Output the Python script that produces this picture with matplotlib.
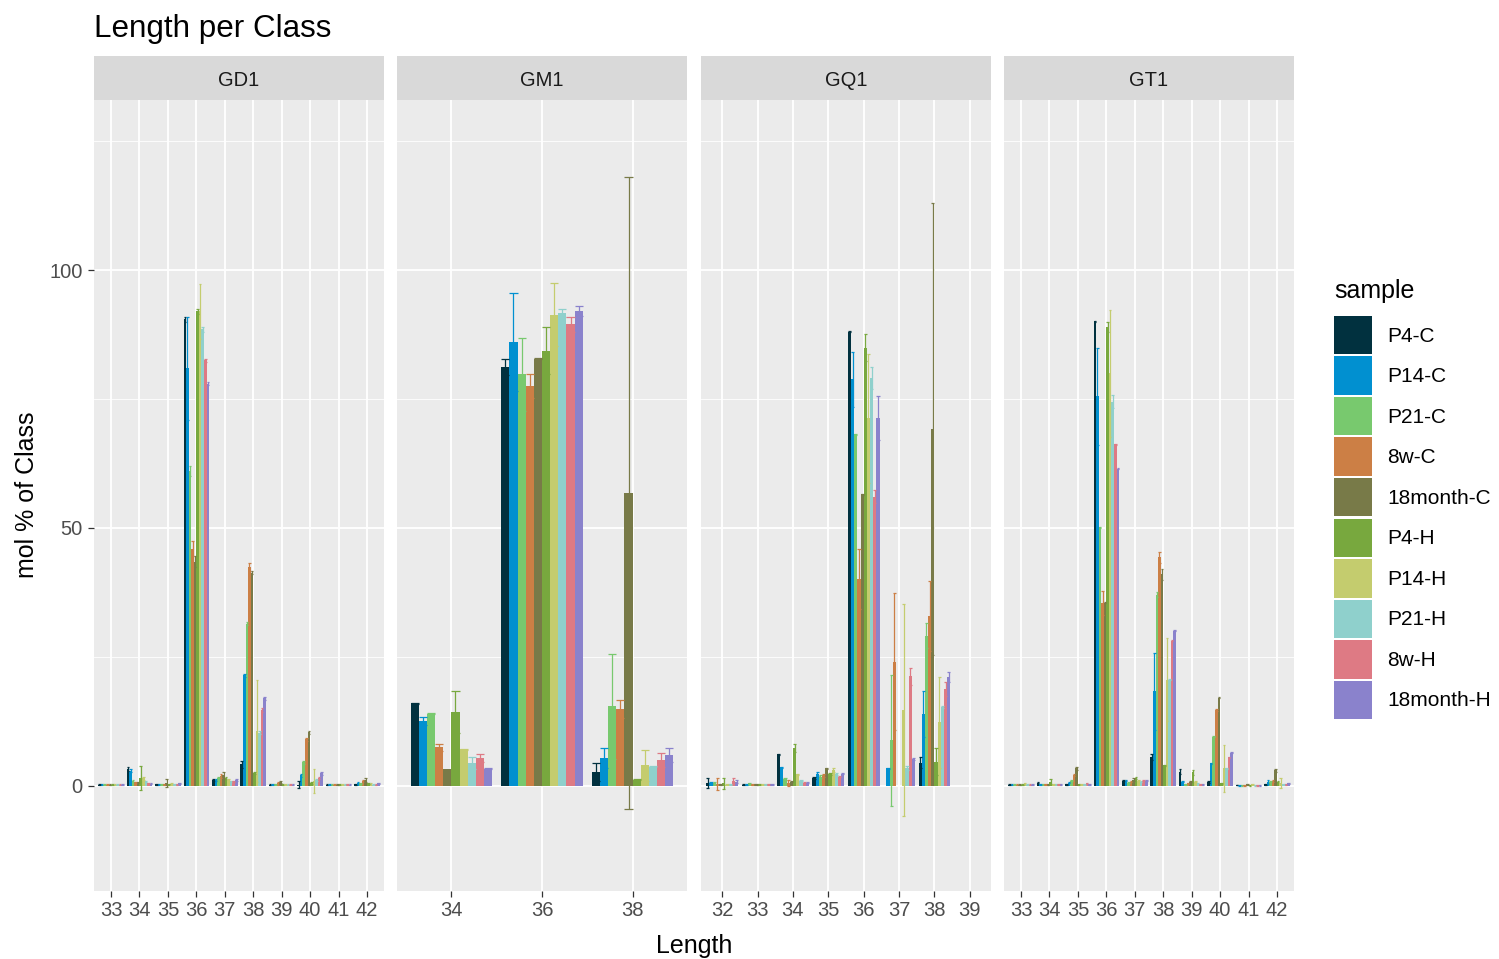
import matplotlib
matplotlib.use("Agg")
import matplotlib.pyplot as plt
from matplotlib.patches import Rectangle
import numpy as np

plt.rcParams['font.family'] = ['Liberation Sans', 'DejaVu Sans']

samples = ["P4-C", "P14-C", "P21-C", "8w-C", "18month-C",
           "P4-H", "P14-H", "P21-H", "8w-H", "18month-H"]
colors = ["#01313F", "#0190D0", "#78C96E", "#CC7F45", "#787A48",
          "#78A83E", "#C4CC6E", "#8FD0CC", "#DE7A84", "#8A82CC"]

classes = ["GD1", "GM1", "GQ1", "GT1"]

GD1_lengths = ["33", "34", "35", "36", "37", "38", "39", "40", "41", "42"]
GD1_mean = [
    [0.2, 0.3, 0.2, 0.2, 0.2, 0.2, 0.2, 0.2, 0.2, 0.2],
    [3.2, 2.9, 1.0, 0.7, 0.7, 1.5, 1.5, 0.9, 0.5, 0.4],
    [0.3, 0.3, 0.3, 0.3, 0.5, 0.3, 0.3, 0.3, 0.3, 0.5],
    [90.5, 81.0, 61.0, 46.0, 43.5, 92.0, 92.0, 88.5, 82.5, 78.0],
    [1.2, 1.2, 1.5, 1.9, 2.0, 1.5, 1.2, 0.9, 0.9, 1.2],
    [4.2, 21.4, 31.4, 42.5, 41.3, 2.4, 10.7, 10.3, 14.7, 17.0],
    [0.2, 0.2, 0.3, 0.5, 0.7, 0.3, 0.2, 0.2, 0.2, 0.2],
    [0.2, 2.0, 4.6, 9.0, 10.4, 0.5, 0.9, 1.2, 1.5, 2.4],
    [0.2, 0.2, 0.2, 0.2, 0.2, 0.3, 0.2, 0.2, 0.3, 0.2],
    [0.3, 0.5, 0.5, 0.9, 1.2, 0.5, 0.3, 0.2, 0.2, 0.5],
]
GD1_sd = [
    [0.1, 0.1, 0.1, 0.1, 0.1, 0.1, 0.1, 0.1, 0.1, 0.1],
    [0.4, 0.3, 0.2, 0.1, 0.1, 2.4, 0.3, 0.1, 0.1, 0.1],
    [0.1, 0.1, 0.1, 0.1, 0.8, 0.1, 0.2, 0.1, 0.1, 0.1],
    [0.5, 10.0, 1.0, 1.5, 1.0, 0.5, 5.3, 0.5, 0.3, 0.3],
    [0.2, 0.2, 0.2, 0.3, 0.6, 0.2, 0.2, 0.1, 0.1, 0.2],
    [0.7, 0.3, 0.3, 0.8, 0.3, 0.2, 9.9, 0.3, 0.3, 0.3],
    [0.1, 0.1, 0.1, 0.3, 0.2, 0.1, 0.1, 0.1, 0.1, 0.1],
    [0.7, 0.3, 0.3, 0.3, 0.3, 0.2, 2.3, 0.2, 0.2, 0.3],
    [0.1, 0.1, 0.1, 0.1, 0.1, 0.1, 0.1, 0.1, 0.1, 0.1],
    [0.1, 0.2, 0.1, 0.2, 0.4, 0.1, 0.2, 0.1, 0.1, 0.1],
]

GM1_lengths = ["34", "36", "38"]
GM1_mean = [
    [16.0, 12.5, 14.0, 7.5, 3.3, 14.3, 7.1, 4.4, 5.4, 3.3],
    [81.2, 86.0, 79.8, 77.5, 82.8, 84.4, 91.4, 91.7, 89.5, 92.1],
    [2.7, 5.4, 15.4, 14.9, 56.8, 1.2, 4.0, 3.7, 5.0, 6.0],
]
GM1_sd = [
    [0.1, 0.8, 0.1, 0.7, 0.0, 4.0, 0.1, 1.2, 0.7, 0.1],
    [1.6, 9.5, 7.1, 2.3, 0.1, 4.6, 6.2, 0.7, 1.5, 1.0],
    [1.7, 2.0, 10.2, 1.8, 61.3, 0.1, 3.0, 0.1, 1.4, 1.4],
]

GQ1_lengths = ["32", "33", "34", "35", "36", "37", "38", "39"]
GQ1_mean = [
    [0.5, 0.5, 0.5, 0.3, 0.3, 0.5, 0.2, 0.3, 1.0, 0.8],
    [0.2, 0.2, 0.5, 0.3, 0.3, 0.3, 0.3, 0.3, 0.3, 0.3],
    [6.1, 3.6, 1.3, 0.5, 0.8, 7.3, 2.2, 1.0, 0.6, 0.6],
    [1.6, 2.3, 1.8, 2.0, 3.4, 2.3, 3.0, 2.3, 1.8, 2.3],
    [88.1, 78.8, 68.2, 40.1, 56.5, 85.0, 71.3, 79.1, 56.1, 71.3],
    [0.0, 3.4, 8.8, 24.1, 0.0, 0.0, 14.7, 3.4, 21.2, 5.2],
    [4.5, 13.9, 29.1, 32.9, 69.2, 4.7, 12.3, 15.2, 18.8, 21.1],
    [0.0, 0.0, 0.0, 0.0, 0.0, 0.0, 0.0, 0.0, 0.0, 0.0],
]
GQ1_sd = [
    [1.0, 0.2, 0.2, 1.2, 0.1, 1.1, 0.1, 0.1, 0.5, 0.3],
    [0.1, 0.1, 0.1, 0.1, 0.1, 0.1, 0.1, 0.1, 0.1, 0.1],
    [0.1, 0.1, 0.2, 0.6, 0.1, 0.8, 0.1, 0.1, 0.1, 0.1],
    [0.2, 0.4, 0.2, 0.2, 0.1, 0.2, 0.4, 0.2, 0.1, 0.1],
    [0.1, 5.4, 0.1, 5.8, 0.1, 2.7, 12.5, 2.2, 1.2, 4.3],
    [0.0, 0.1, 12.7, 13.2, 0.0, 0.0, 20.5, 0.4, 1.7, 0.1],
    [1.0, 4.5, 2.4, 6.8, 43.9, 2.7, 8.8, 0.2, 1.4, 0.9],
    [0.0, 0.0, 0.0, 0.0, 0.0, 0.0, 0.0, 0.0, 0.0, 0.0],
]

GT1_lengths = ["33", "34", "35", "36", "37", "38", "39", "40", "41", "42"]
GT1_mean = [
    [0.2, 0.2, 0.2, 0.2, 0.2, 0.2, 0.5, 0.2, 0.2, 0.2],
    [0.6, 0.3, 0.3, 0.3, 0.3, 0.8, 0.3, 0.3, 0.3, 0.3],
    [0.3, 0.6, 1.0, 2.1, 3.4, 0.3, 0.3, 0.3, 0.5, 0.3],
    [90.1, 75.5, 50.1, 35.5, 35.5, 89.0, 80.0, 74.5, 66.2, 61.5],
    [1.0, 1.0, 0.6, 0.8, 1.2, 1.6, 1.0, 0.8, 1.0, 1.0],
    [5.6, 18.3, 37.1, 44.3, 41.0, 4.0, 20.6, 20.6, 28.1, 30.1],
    [2.7, 0.8, 0.3, 0.5, 0.8, 2.6, 0.8, 0.5, 0.3, 0.3],
    [0.8, 4.4, 9.5, 14.7, 17.1, 0.5, 3.4, 3.4, 5.5, 6.4],
    [0.2, 0.1, 0.1, 0.1, 0.3, 0.1, 0.3, 0.1, 0.1, 0.1],
    [0.3, 0.8, 0.8, 1.0, 3.0, 0.8, 0.5, 0.3, 0.3, 0.5],
]
GT1_sd = [
    [0.1, 0.1, 0.1, 0.1, 0.1, 0.1, 0.1, 0.1, 0.1, 0.1],
    [0.1, 0.1, 0.1, 0.1, 0.1, 0.5, 0.1, 0.1, 0.1, 0.1],
    [0.1, 0.1, 0.1, 0.2, 0.3, 0.1, 0.1, 0.1, 0.1, 0.1],
    [0.1, 9.4, 0.1, 2.3, 0.1, 1.0, 12.3, 1.3, 0.1, 0.1],
    [0.1, 0.1, 0.1, 0.1, 0.3, 0.2, 0.1, 0.1, 0.1, 0.1],
    [0.6, 7.5, 0.5, 1.0, 1.0, 0.1, 8.1, 0.1, 0.1, 0.1],
    [0.5, 0.1, 0.1, 0.1, 0.1, 0.5, 0.1, 0.1, 0.1, 0.1],
    [0.2, 0.1, 0.1, 0.1, 0.1, 0.1, 4.6, 0.1, 0.1, 0.1],
    [0.05, 0.05, 0.05, 0.05, 0.05, 0.05, 0.05, 0.05, 0.05, 0.05],
    [0.1, 0.4, 0.1, 0.2, 0.3, 0.1, 1.0, 0.1, 0.1, 0.1],
]

panel_data = {
    "GD1": (GD1_lengths, GD1_mean, GD1_sd),
    "GM1": (GM1_lengths, GM1_mean, GM1_sd),
    "GQ1": (GQ1_lengths, GQ1_mean, GQ1_sd),
    "GT1": (GT1_lengths, GT1_mean, GT1_sd),
}

W, H = 1499, 959
fig = plt.figure(figsize=(W / 100, H / 100), dpi=100)
fig.patch.set_facecolor("white")


def fx(px):
    return px / W


def fy(py):
    return 1 - py / H


panel_left = [94, 397, 701, 1004]
panel_w = 290
p_top, p_bot = 100, 891
s_top = 56
ymin, ymax = -20.4, 133.0

for i, cls in enumerate(classes):
    lengths, mean, sd = panel_data[cls]
    n = len(lengths)
    ax = fig.add_axes([fx(panel_left[i]), fy(p_bot), fx(panel_w), (p_bot - p_top) / H])
    ax.set_facecolor("#EBEBEB")
    for s in ax.spines.values():
        s.set_visible(False)
    ax.set_xlim(-0.6, n - 0.4)
    ax.set_ylim(ymin, ymax)
    ax.set_axisbelow(True)
    ax.set_yticks([0, 50, 100])
    ax.set_yticks([25, 75, 125], minor=True)
    ax.set_xticks(np.arange(n))
    ax.set_xticklabels(lengths)
    ax.grid(which="major", color="white", linewidth=1.3)
    ax.grid(which="minor", axis="y", color="white", linewidth=0.6)
    ax.tick_params(which="minor", length=0)
    ax.tick_params(which="major", length=4.3, width=0.9, color="#333333",
                   labelsize=14.5, labelcolor="#4D4D4D")
    ax.tick_params(axis="x", pad=3)
    ax.tick_params(axis="y", pad=4)
    if i > 0:
        ax.tick_params(axis="y", left=False, labelleft=False)
    bw = 0.9 / len(samples)
    x = np.arange(n)
    m = np.array(mean)
    e = np.array(sd)
    for k, c in enumerate(colors):
        xs = x - 0.45 + bw * (k + 0.5)
        ax.bar(xs, m[:, k], width=bw, color=c, linewidth=0, zorder=2)
        for j in range(n):
            if e[j, k] > 0:
                lo, hi = m[j, k] - e[j, k], m[j, k] + e[j, k]
                ax.plot([xs[j], xs[j]], [lo, hi], color=c, lw=0.9, zorder=3,
                        solid_capstyle="butt")
                ax.plot([xs[j] - bw / 2, xs[j] + bw / 2], [hi, hi], color=c,
                        lw=0.9, zorder=3, solid_capstyle="butt")
                ax.plot([xs[j] - bw / 2, xs[j] + bw / 2], [lo, lo], color=c,
                        lw=0.9, zorder=3, solid_capstyle="butt")
    # strip
    fig.add_artist(Rectangle((fx(panel_left[i]), fy(p_top)), fx(panel_w),
                             (p_top - s_top) / H, transform=fig.transFigure,
                             facecolor="#D9D9D9", edgecolor="none"))
    fig.text(fx(panel_left[i] + panel_w / 2), fy(80), cls,
             ha="center", va="center", fontsize=14.5, color="#1A1A1A")

# titles
fig.text(fx(94), fy(29), "Length per Class", ha="left", va="center",
         fontsize=22.6, color="black")
fig.text(fx(694), fy(946), "Length", ha="center", va="center",
         fontsize=18, color="black")
fig.text(fx(27), fy(495), "mol % of Class", ha="center", va="center",
         rotation=90, fontsize=18, color="black")

# legend
fig.text(fx(1334), fy(291), "sample", ha="left", va="center", fontsize=18,
         color="black")
key_w, key_h, step, y0 = 38, 38.5, 40.55, 335
for k, (s, c) in enumerate(zip(samples, colors)):
    yc = y0 + step * k
    fig.add_artist(Rectangle((fx(1334), fy(yc + key_h / 2)), fx(key_w), key_h / H,
                             transform=fig.transFigure, facecolor=c,
                             edgecolor="none"))
    fig.text(fx(1387), fy(yc + 1), s, ha="left", va="center", fontsize=15,
             color="black")

fig.savefig("out.png", dpi=100)
